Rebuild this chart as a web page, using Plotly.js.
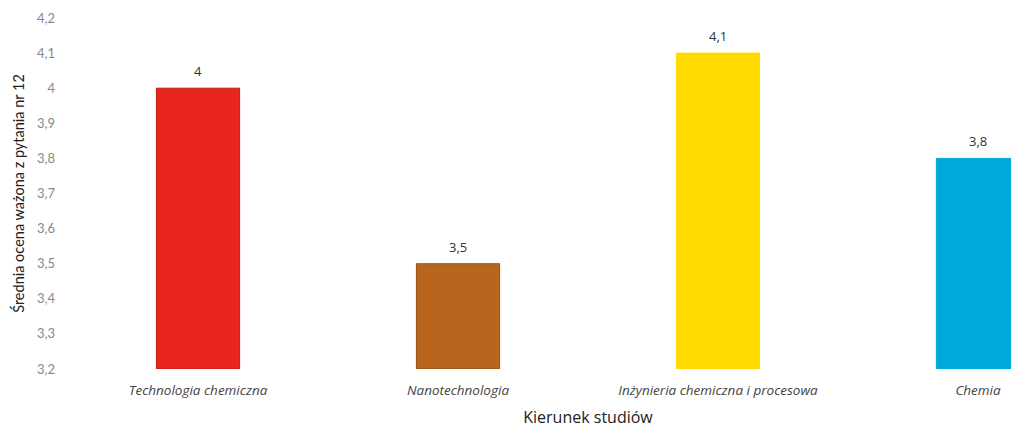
<!DOCTYPE html>
<html>
<head>
<meta charset="utf-8">
<script src="https://cdn.plot.ly/plotly-3.0.1.min.js"></script>
<style>
  html, body { margin: 0; padding: 0; background: #fff; overflow: hidden; }
  #plot { width: 1120px; height: 428px; }
</style>
</head>
<body>
<div id="plot"></div>
<script>
// fields of study and their weighted mean scores (question 12)
const categories = [
  "Technologia chemiczna",
  "Nanotechnologia",
  "Inżynieria chemiczna i procesowa",
  "Chemia"
];
const scores = [4, 3.5, 4.1, 3.8];
const barColors = ["#e8261f", "#b8651e", "#ffd900", "#00a9dc"];
const lineColors = ["#c41a14", "#9a5214", "#ffd900", "#00a9dc"];
const axisBase = 3.2;

// labels above bars use a comma as decimal mark
const scoreLabels = scores.map((v) => String(v).replace(".", ","));

const font = "Lato, 'Open Sans', sans-serif";
const openSans = "'Open Sans', sans-serif";

let data = [
  {
    type: "bar",
    x: categories,
    y: scores.map((v) => v - axisBase), // bar heights above the base
    base: axisBase,
    marker: {
      color: barColors,
      line: { color: lineColors, width: 1 },
    },
    hoverinfo: "none",
  },
];

// value labels a little above each bar
let annotations = categories.map((c, i) => ({
  x: c,
  y: scores[i],
  text: scoreLabels[i],
  showarrow: false,
  yanchor: "bottom",
  yshift: 6,
  font: { family: openSans, size: 13, color: "#333" },
}));

let layout = {
  width: 1120,
  height: 428,
  margin: { l: 68, r: 12, t: 18, b: 59 },
  separators: ",.",
  paper_bgcolor: "#fff",
  plot_bgcolor: "#fff",
  showlegend: false,
  bargap: 0.68,
  annotations: annotations,
  font: { family: font, color: "#555" },
  xaxis: {
    showline: false,
    showgrid: false,
    ticks: "",
    ticklabelstandoff: 11,
    tickfont: { family: openSans, size: 13.5, color: "#444", style: "italic" },
    title: {
      text: "Kierunek studiów",
      font: { family: openSans, size: 16, color: "#222", weight: 500 },
      standoff: 17,
    },
  },
  yaxis: {
    range: [3.2, 4.2],
    dtick: 0.1,
    tick0: 3.2,
    showgrid: false,
    zeroline: false,
    showline: false,
    ticks: "",
    ticklabelstandoff: 12,
    tickfont: { family: font, size: 13, color: "#888" },
    title: {
      text: "Średnia ocena ważona z pytania nr 12",
      font: { family: font, size: 14.5, color: "#222" },
      standoff: 8,
    },
  },
};

Plotly.newPlot("plot", data, layout, { staticPlot: true });
</script>
</body>
</html>
